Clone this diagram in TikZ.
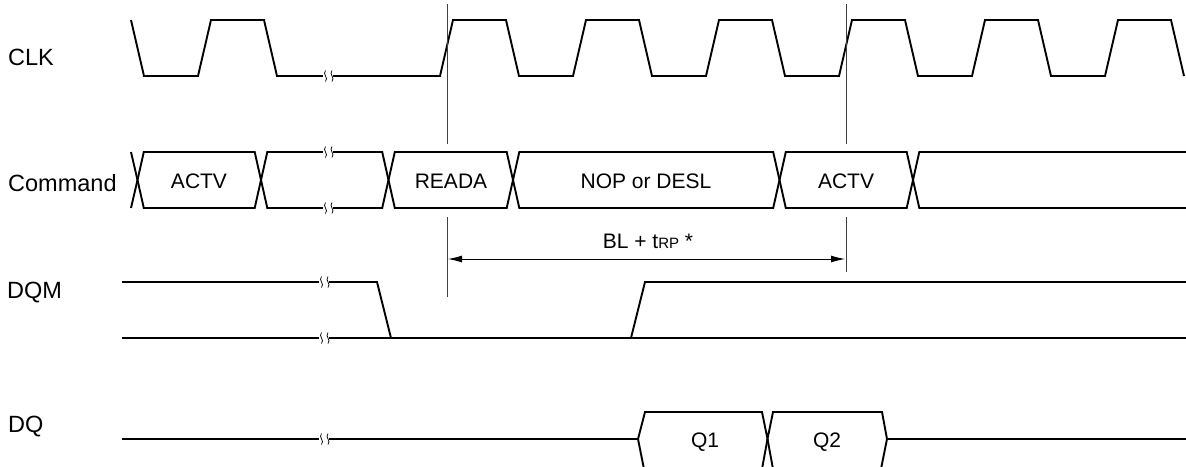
\documentclass[tikz,border=0pt]{standalone}
\usepackage{fontspec}
\setmainfont{Liberation Sans}
\usetikzlibrary{arrows.meta}
\newcommand\wbreak[2]{%
  \fill[white] (#1-5,#2-3) rectangle (#1+5,#2+3);
  \draw[brk] (#1-2.5,#2-5.5) .. controls (#1-6,#2-1.5) and (#1+1,#2+1.5) .. (#1-2.5,#2+5.5);
  \draw[brk] (#1+4,#2-5.5) .. controls (#1+0.5,#2-1.5) and (#1+7.5,#2+1.5) .. (#1+4,#2+5.5);
}
\newcommand\busbox[5]{% c1, c2, ycenter, halfheight, slant
  \draw[sig] (#1,#3) -- (#1+#5,#3-#4) -- (#2-#5,#3-#4) -- (#2,#3);
  \draw[sig] (#1,#3) -- (#1+#5,#3+#4) -- (#2-#5,#3+#4) -- (#2,#3);
}
\tikzset{
  sig/.style={line width=1.9pt, line join=miter},
  brk/.style={line width=0.75pt},
  guide/.style={line width=1pt, draw=black!75},
  lbl/.style={font=\fontsize{23.5}{23.5}\selectfont, inner sep=0pt, anchor=base west},
  inlbl/.style={font=\fontsize{21}{21}\selectfont, inner sep=0pt, anchor=base},
}
\begin{document}
\begin{tikzpicture}[x=1pt, y=-1pt]
\useasboundingbox (0,0) rectangle (1186,466);

% labels
\node[lbl] (clk) at (8,65) {CLK};
\node[lbl] (cmd) at (8,191) {Command};
\node[lbl] (dqm) at (7,298) {DQM};
\node[lbl] (dq) at (8,432) {DQ};

% CLK waveform
\draw[sig] (131,20) -- (144,76) -- (198,76) -- (211,20) -- (264,20) -- (277,76) -- (330,76)
  -- (440,76) -- (453,20) -- (506,20) -- (519,76) -- (573,76) -- (586,20) -- (639,20) -- (652,76)
  -- (706,76) -- (719,20) -- (772,20) -- (785,76) -- (839,76) -- (852,20) -- (905,20) -- (918,76)
  -- (972,76) -- (985,20) -- (1038,20) -- (1051,76) -- (1105,76) -- (1118,20) -- (1171,20) -- (1184,76);
\wbreak{328}{76}

% Command bus
\draw[sig] (131,152) -- (137.5,180);
\draw[sig] (131,208) -- (137.5,180);
\busbox{137.5}{261}{180}{28}{6.3}
\busbox{261}{388.5}{180}{28}{6.3}
\busbox{388.5}{513}{180}{28}{6.3}
\busbox{513}{779.5}{180}{28}{6.3}
\busbox{779.5}{913}{180}{28}{6.3}
\draw[sig] (913,180) -- (919.3,152) -- (1186,152);
\draw[sig] (913,180) -- (919.3,208) -- (1186,208);
\wbreak{328}{152}
\wbreak{328}{208}
\node[inlbl] (actv1) at (199,188) {ACTV};
\node[inlbl] (reada) at (451,188) {READA};
\node[inlbl] (nop) at (646,188) {NOP or DESL};
\node[inlbl] (actv2) at (846,188) {ACTV};

% guide lines
\coordinate (g1a) at (447,4);   \coordinate (g1b) at (447,144);
\coordinate (g1c) at (447,217); \coordinate (g1d) at (447,297);
\coordinate (g2a) at (846,4);   \coordinate (g2b) at (846,144);
\coordinate (g2c) at (846,217); \coordinate (g2d) at (846,272);
\draw[guide] (g1a) -- (g1b);
\draw[guide] (g1c) -- (g1d);
\draw[guide] (g2a) -- (g2b);
\draw[guide] (g2c) -- (g2d);

% BL + tRP arrow
\coordinate (t1) at (448,259);
\coordinate (t2) at (845,259);
\draw[line width=0.9pt, {Latex[length=14pt,width=7pt]}-{Latex[length=14pt,width=7pt]}] (t1) -- (t2);
\node[inlbl] (bl) at (648,248) {BL + t{\fontsize{15}{15}\selectfont RP} *};

% DQM
\draw[sig] (122,282) -- (377,282) -- (391,338);
\draw[sig] (122,338) -- (1186,338);
\draw[sig] (631,338) -- (645,282) -- (1186,282);
\wbreak{324}{282}
\wbreak{324}{338}

% DQ
\draw[sig] (122,439) -- (638,439) -- (645,412) -- (762,412) -- (767.5,439) -- (773,412) -- (882,412) -- (887,439) -- (1186,439);
\draw[sig] (638,439) -- (644,469);
\draw[sig] (767.5,439) -- (762,469);
\draw[sig] (767.5,439) -- (773,469);
\draw[sig] (887,439) -- (881,469);
\wbreak{324}{439}
\node[inlbl] (q1) at (705,447) {Q1};
\node[inlbl] (q2) at (827,447) {Q2};
\end{tikzpicture}
\end{document}
